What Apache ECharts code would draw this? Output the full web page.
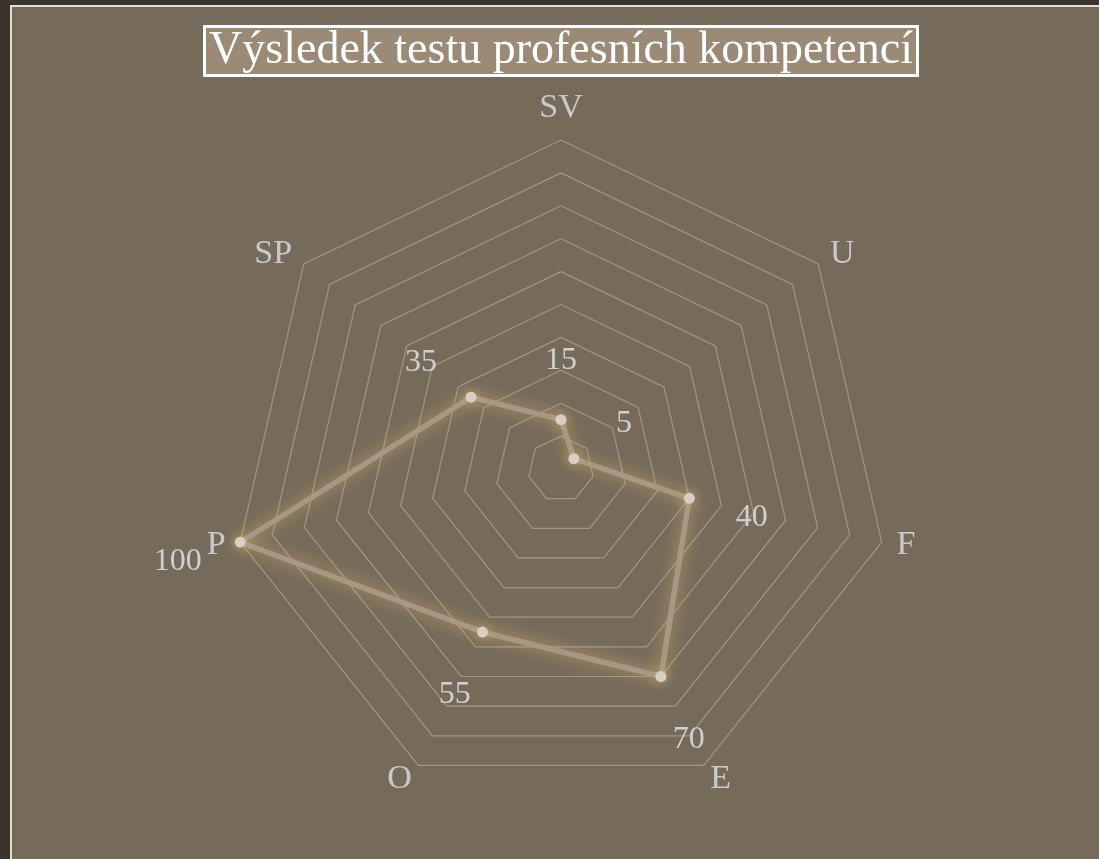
<!DOCTYPE html>
<html>
<head>
<meta charset="utf-8">
<script src="https://cdn.jsdelivr.net/npm/echarts@6/dist/echarts.min.js"></script>
<style>
  html, body { margin: 0; padding: 0; background: #3b342c; overflow: hidden; width: 1099px; height: 859px; }
  #main { position: absolute; left: 10px; top: 5px; width: 1098px; height: 860px;
          border-left: 2px solid #e2ddd5; border-top: 2px solid #e2ddd5; background: #766b5a; }
</style>
</head>
<body>
<div id="main"></div>
<script>
// Data (original clockwise order from the top)
const titleText = 'Výsledek testu profesních kompetencí';
const categories = ['SV', 'U', 'F', 'E', 'O', 'P', 'SP'];
const values = [15, 5, 40, 70, 55, 100, 35];
const maxValue = 100;

const FONT = '"Liberation Serif", "DejaVu Serif", serif';

// ECharts places radar indicators counter-clockwise; reorder to draw clockwise
const order = [0].concat(categories.slice(1).map((_, i) => categories.length - 1 - i));
const indicators = order.map(i => ({ name: categories[i], max: maxValue }));
const orderedValues = order.map(i => values[i]);

// Per-axis radial label offset (style only)
const n = categories.length;
const LABEL_DIST = 64;
const LABEL_SHIFT_Y = 5;
const rich = {};
orderedValues.forEach((v, k) => {
  const ang = Math.PI / 2 + k * 2 * Math.PI / n; // counter-clockwise from top
  const dx = Math.cos(ang) * LABEL_DIST;
  const dy = -Math.sin(ang) * LABEL_DIST + LABEL_SHIFT_Y;
  rich['d' + k] = {
    fontFamily: FONT, fontSize: 32, color: '#cfcfd0',
    padding: [Math.max(0, 2 * dy), Math.max(0, -2 * dx), Math.max(0, -2 * dy), Math.max(0, 2 * dx)]
  };
});

const chart = echarts.init(document.getElementById('main'), null, { renderer: 'canvas' });
chart.setOption({
  animation: false,
  title: {
    text: titleText,
    left: 'center',
    top: 19,
    backgroundColor: '#9a8a76',
    borderColor: '#ffffff',
    borderWidth: 3,
    padding: [2, 5, 2, 5],
    textStyle: { fontFamily: FONT, fontSize: 46, fontWeight: 'normal', color: '#ffffff', lineHeight: 46 }
  },
  radar: {
    center: [549, 462],
    radius: 329,
    splitNumber: 10,
    shape: 'polygon',
    indicator: indicators,
    axisName: { fontFamily: FONT, fontSize: 34, color: '#c9c9cc' },
    nameGap: 15,
    axisLine: { show: false },
    axisTick: { show: false },
    axisLabel: { show: false },
    splitArea: { show: false },
    splitLine: { lineStyle: { color: 'rgba(205,195,180,0.5)', width: 1.2 } }
  },
  series: [{
    type: 'radar',
    symbol: 'circle',
    symbolSize: 11,
    lineStyle: { color: '#a89883', width: 5.5, shadowBlur: 16, shadowColor: 'rgba(222,185,120,0.75)' },
    itemStyle: { color: '#d8cfc4', shadowBlur: 12, shadowColor: 'rgba(222,185,120,0.7)' },
    label: {
      show: true,
      position: 'inside',
      formatter: p => {
        const k = orderedValues.indexOf(p.value);
        return '{d' + k + '|' + p.value + '}';
      },
      rich: rich
    },
    data: [{ value: orderedValues, name: titleText }]
  }]
});
</script>
</body>
</html>
